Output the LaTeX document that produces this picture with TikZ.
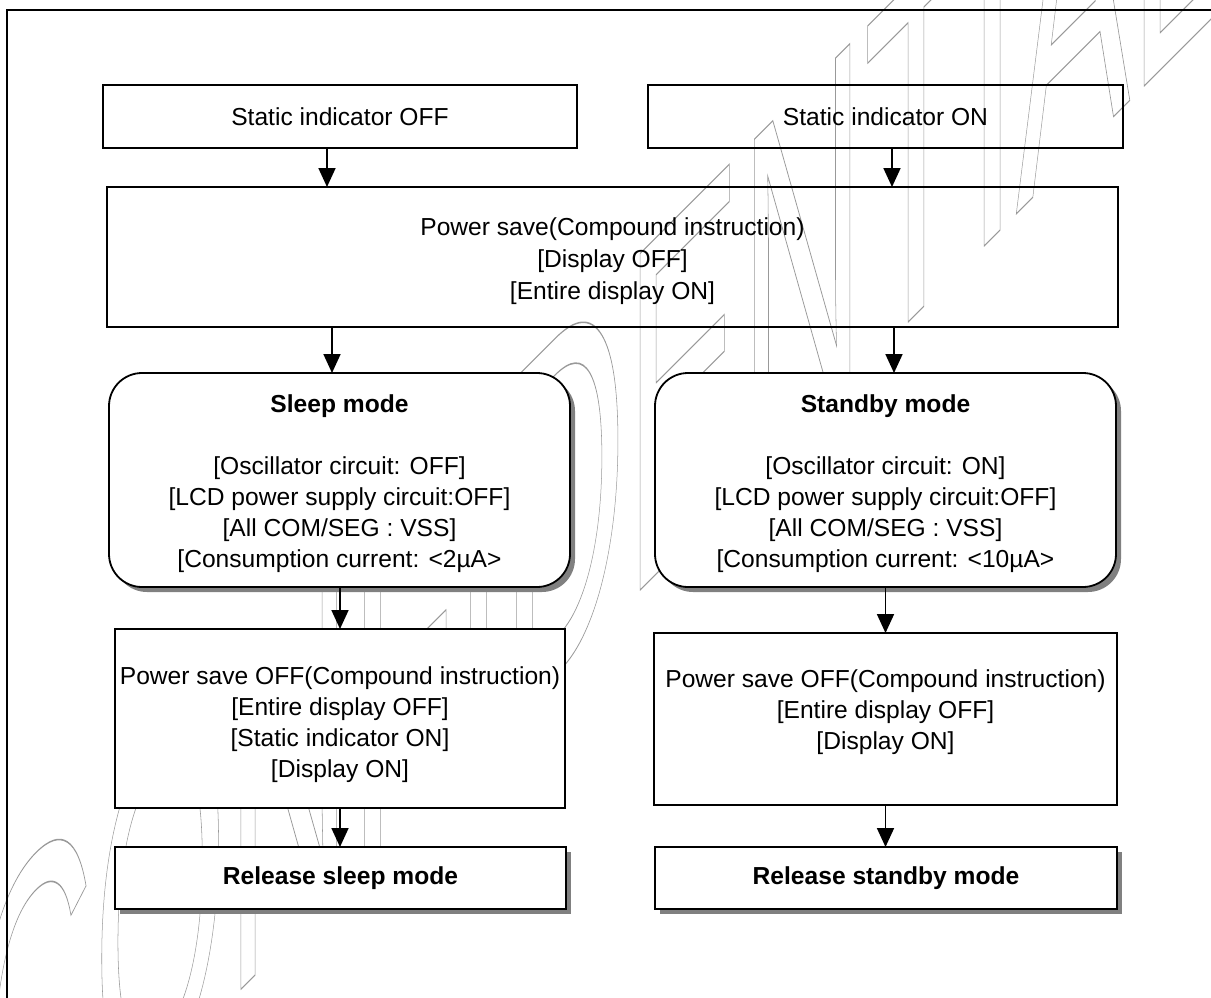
\documentclass[tikz,border=0pt]{standalone}
\usepackage{fontspec}
\setmainfont{Liberation Sans}
\usetikzlibrary{arrows.meta,shadows}
\begin{document}
\begin{tikzpicture}[x=1pt,y=-1pt,
  plain/.style={draw=black, line width=1.8pt, inner sep=0pt, outer sep=0pt,
    align=center, font=\fontsize{24.6}{31}\selectfont},
  filledbox/.style={plain, fill=white},
  shadowed/.style={general shadow={fill=black!50, shadow xshift=5pt, shadow yshift=-5pt}},
  roundbox/.style={filledbox, shadowed, rounded corners=33pt},
  relbox/.style={filledbox, shadowed, font=\fontsize{24.6}{31}\selectfont\bfseries},
  arr/.style={line width=1.8pt, -{Triangle[length=19pt,width=17pt]}}]
\useasboundingbox (0,0) rectangle (1211,998);

% watermark
\begin{scope}
\clip (0,0) rectangle (1211,998);
\begin{scope}[shift={(-30,1260)}, yslant=1, xscale=0.35]
\node[transform shape, anchor=base west, inner sep=0pt, text=black!40,
  font=\fontsize{489}{489}\selectfont] (wm) at (0,0)
  {\special{pdf:literal direct 1 Tr 1.5 w}CONFIDENTIAL\special{pdf:literal direct 0 Tr}};
\end{scope}
\end{scope}

% frame
\draw[line width=2pt] (7,1005) -- (7,10) -- (1220,10);

% boxes
\node[plain, minimum width=474pt, minimum height=63pt] (sA) at (340,116.5) {Static indicator OFF};
\node[plain, minimum width=475pt, minimum height=63pt] (sB) at (885.5,116.5) {Static indicator ON};
\node[plain, minimum width=1011pt, minimum height=140pt, font=\fontsize{24.6}{32}\selectfont] (ps) at (612.5,257)
  {\rule{0pt}{26pt}Power save(Compound instruction)\\{}[Display OFF]\\{}[Entire display ON]};
\node[roundbox, minimum width=461pt, minimum height=214pt] (sl) at (339.5,480)
  {\rule{0pt}{25pt}\textbf{Sleep mode}\\[31pt]{}[Oscillator circuit: OFF]\\{}[LCD power supply circuit:OFF]\\{}[All COM/SEG : VSS]\\{}[Consumption current: <2µA>};
\node[roundbox, minimum width=461pt, minimum height=214pt] (st) at (885.5,480)
  {\rule{0pt}{25pt}\textbf{Standby mode}\\[31pt]{}[Oscillator circuit: ON]\\{}[LCD power supply circuit:OFF]\\{}[All COM/SEG : VSS]\\{}[Consumption current: <10µA>};
\node[filledbox, minimum width=450pt, minimum height=179pt] (offL) at (340,718.5)
  {\rule{0pt}{30pt}Power save OFF(Compound instruction)\\{}[Entire display OFF]\\{}[Static indicator ON]\\{}[Display ON]};
\node[filledbox, minimum width=463pt, minimum height=172pt] (offR) at (885.5,719)
  {\rule{0pt}{30pt}Power save OFF(Compound instruction)\\{}[Entire display OFF]\\{}[Display ON]\\\mbox{}};
\node[relbox, minimum width=451pt, minimum height=62pt] (relL) at (340.5,878) {Release sleep mode};
\node[relbox, minimum width=462pt, minimum height=62pt] (relR) at (886,878) {Release standby mode};

% connectors
\draw[arr] ([xshift=-13pt]sA.south) -- ([xshift=-13pt]sA.south |- ps.north);
\draw[arr] ([xshift=6.5pt]sB.south) -- ([xshift=6.5pt]sB.south |- ps.north);
\draw[arr] ([xshift=-7.5pt]sl.north |- ps.south) -- ([xshift=-7.5pt]sl.north);
\draw[arr] ([xshift=8.5pt]st.north |- ps.south) -- ([xshift=8.5pt]st.north);
\draw[arr] (sl.south -| offL.north) -- (offL.north);
\draw[arr] (st.south -| offR.north) -- (offR.north);
\draw[arr] (offL.south) -- (offL.south |- relL.north);
\draw[arr] (offR.south) -- (offR.south |- relR.north);
\end{tikzpicture}
\end{document}
